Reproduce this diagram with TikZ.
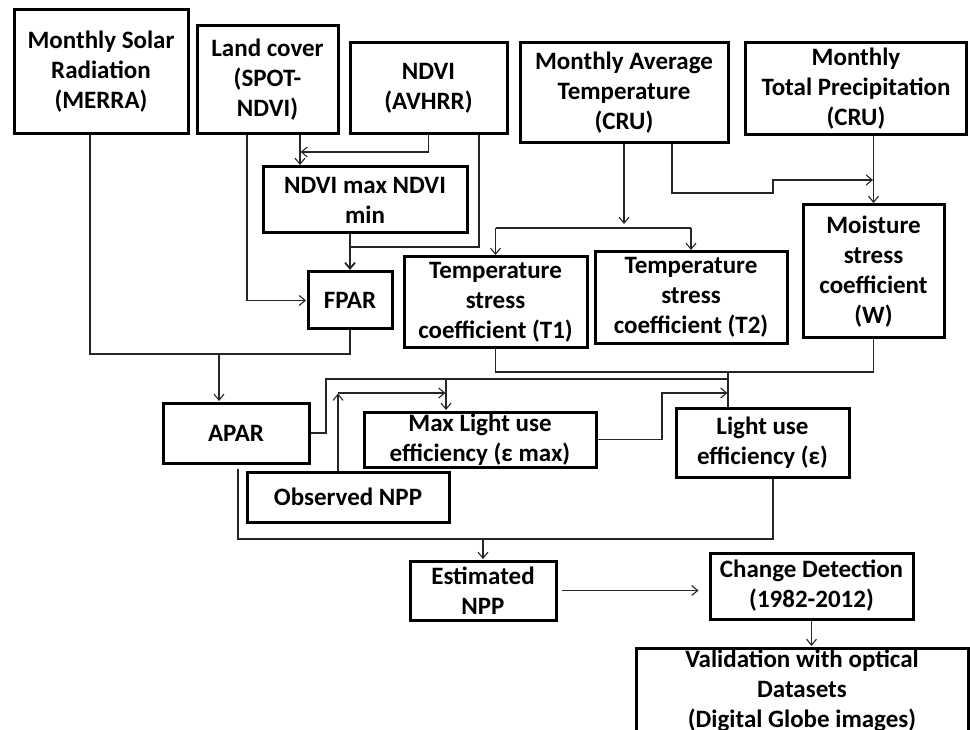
\documentclass[tikz,border=0pt]{standalone}
\usepackage{fontspec}
\setmainfont{Carlito}
\usetikzlibrary{arrows.meta,calc}
\begin{document}
\begin{tikzpicture}[x=1pt,y=-1pt,
  box/.style={draw=black, line width=3pt, align=center, inner sep=0pt,
    font=\fontsize{25}{30}\selectfont\bfseries, text=black},
  sz/.style 2 args={minimum width=#1pt, minimum height=#2pt},
  conn/.style={draw=black!85, line width=1.1pt},
  arr/.style={conn, -{Straight Barb[length=6pt,width=10pt]}, shorten >=0.5pt}]
\fill[white] (0,0) rectangle (970,730);
\useasboundingbox (0,0) rectangle (970,730);

% boxes
\node[box, sz={174}{124}] (solar) at (101,72) {Monthly Solar\\Radiation\\(MERRA)};
\node[box, sz={141}{108}] (land) at (267.5,80) {Land cover\\(SPOT-\\NDVI)};
\node[box, sz={157}{91}] (ndvi) at (428.5,88.5) {NDVI\\(AVHRR)};
\node[box, sz={208}{100}] (temp) at (624,93) {Monthly Average\\Temperature\\(CRU)};
\node[box, sz={221}{92}] (precip) at (856,89) {Monthly\\Total Precipitation\\(CRU)};
\node[box, sz={204}{66}] (ndvimax) at (365,200) {NDVI max NDVI\\min};
\node[box, sz={84}{57}] (fpar) at (350,300.5) {FPAR};
\node[box, sz={183}{90}] (t1) at (495.5,302) {Temperature\\stress\\coefficient (T1)};
\node[box, sz={192}{91}] (t2) at (691,297.5) {Temperature\\stress\\coefficient (T2)};
\node[box, sz={141}{133}] (moist) at (873.5,271.5) {Moisture\\stress\\coefficient\\(W)};
\node[box, sz={146}{60}] (apar) at (236,433) {APAR};
\node[box, sz={232}{55}] (maxlue) at (480,439.5) {Max Light use\\efficiency (ε max)};
\node[box, sz={202}{50}] (obs) at (348,497) {Observed NPP};
\node[box, sz={173}{69}] (lue) at (762.5,442.5) {Light use\\efficiency (ε)};
\node[box, sz={146}{59}] (est) at (483,590.5) {Estimated\\NPP};
\node[box, sz={203}{66}] (change) at (811.5,586) {Change Detection\\(1982-2012)};
\node[box, sz={332}{86}] (valid) at (802,691) {Validation with optical\\Datasets\\(Digital Globe images)};

% junction coordinates
\coordinate (j1) at (90,354);
\coordinate (j2) at (219,354);
\coordinate (lc) at ([xshift=32.5pt]land.south);
\coordinate (j3) at (300,152);
\coordinate (j4) at (350,247);
\coordinate (j5) at (496,228);
\coordinate (j6) at (773,193);
\coordinate (j7) at (773,180);
\coordinate (j8) at (728,372);
\coordinate (j9) at (326,379);
\coordinate (j10) at (446,379);
\coordinate (j11) at (338,393);
\coordinate (j12) at (662,393);
\coordinate (j13) at (238,539);
\coordinate (j14) at (773,539);

% connectors
\draw[conn] (fpar.south) |- (j1) -- (j1 |- solar.south);
\draw[arr] (j2) -- (j2 |- apar.north);
\draw[arr] ([xshift=-20.5pt]land.south) |- (fpar.west);
\draw[arr] (lc) -- (lc |- ndvimax.north);
\draw[arr] (ndvi.south) |- (j3);
\draw[conn] ([xshift=50.5pt]ndvi.south) |- (j4);
\draw[arr, line width=1.8pt] (fpar.north |- ndvimax.south) -- (fpar.north);
\draw[arr] (temp.south) -- ++(0,80);
\draw[conn] (t1.north |- j5) -- (t2.north |- j5);
\draw[arr] (t1.north |- j5) -- (t1.north);
\draw[arr] (t2.north |- j5) -- (t2.north);
\draw[arr] ([xshift=48pt]temp.south) |- (j6) -- (j7) -- (j7 -| moist.north);
\draw[arr] (moist.north |- precip.south) -- (moist.north);
\draw[conn] (t1.south) |- (j8) -| (moist.south);
\draw[conn] (j8) -- (j8 |- lue.north);
\draw[conn] (apar.east) -| (j9) -- (j9 -| j8);
\draw[arr] (j10) -- (j10 |- maxlue.north);
\draw[arr] (j11 |- obs.north) -- (j11);
\draw[arr] (j11) -- (j11 -| j10);
\draw[arr] (maxlue.east) -| (j12) -- (j12 -| j8);
\draw[conn] ([yshift=-4pt]j13 |- apar.south) -- (j13) -- (j14) -- (j14 |- lue.south);
\draw[arr] (est.north |- j13) -- (est.north);
\draw[arr, shorten <=4pt, shorten >=10pt] (est.east) -- (est.east -| change.west);
\draw[arr] (change.south) -- (change.south |- valid.north);
\end{tikzpicture}
\end{document}
